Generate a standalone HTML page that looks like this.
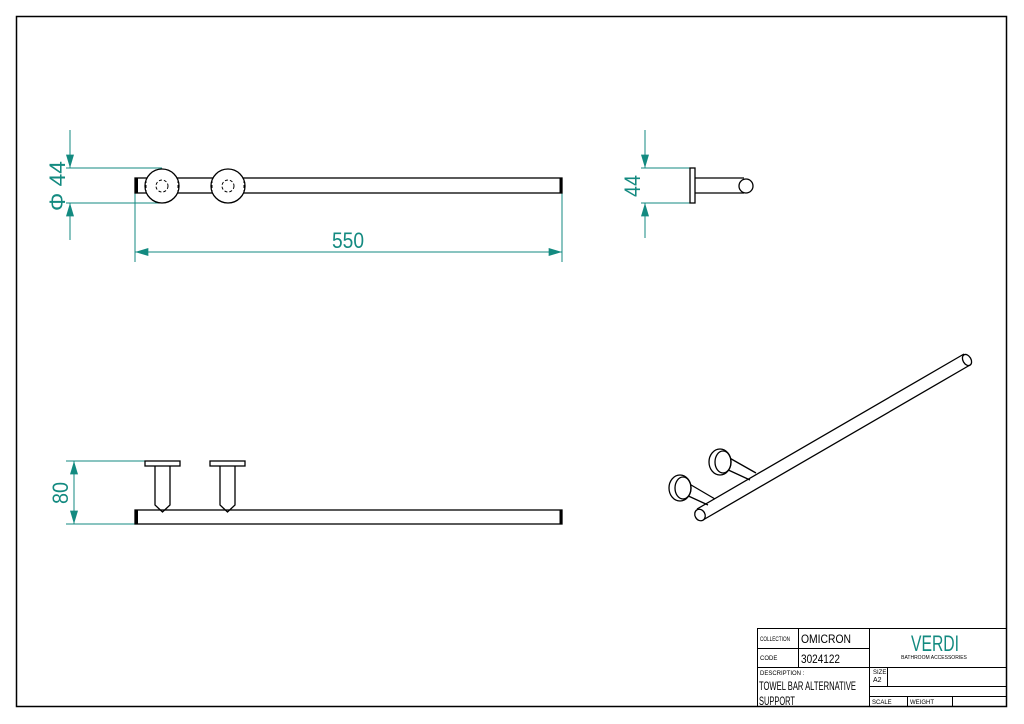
<!DOCTYPE html>
<html><head><style>body{margin:0;background:#fff}svg{display:block}</style></head><body>
<svg width="1024" height="724" viewBox="0 0 1024 724" xmlns="http://www.w3.org/2000/svg" font-family="Liberation Sans, sans-serif">
<defs>
<marker id="a" viewBox="0 0 10 6" refX="10" refY="3" markerWidth="16" markerHeight="8" markerUnits="userSpaceOnUse" orient="auto"><path d="M0,0L10,3L0,6z" fill="#138a80"/></marker>
</defs>
<rect x="16.5" y="16.5" width="990" height="690" fill="none" stroke="#000" stroke-width="1.5"/>
<g stroke="#138a80" stroke-width="1" fill="none">
<line x1="70" y1="130" x2="70" y2="168" marker-end="url(#a)"/>
<line x1="70" y1="240" x2="70" y2="203" marker-end="url(#a)"/>
<line x1="66" y1="168" x2="162" y2="168"/><line x1="66" y1="203" x2="162" y2="203"/>
<line x1="135" y1="193" x2="135" y2="262"/><line x1="562" y1="193" x2="562" y2="262"/>
<line x1="348" y1="252" x2="135" y2="252" marker-end="url(#a)"/>
<line x1="348" y1="252" x2="562" y2="252" marker-end="url(#a)"/>
<line x1="645" y1="130" x2="645" y2="168" marker-end="url(#a)"/>
<line x1="645" y1="238" x2="645" y2="203" marker-end="url(#a)"/>
<line x1="641" y1="168" x2="690" y2="168"/><line x1="641" y1="203" x2="690" y2="203"/>
<line x1="66" y1="461" x2="145" y2="461"/><line x1="66" y1="524" x2="135" y2="524"/>
<line x1="74" y1="492" x2="74" y2="461" marker-end="url(#a)"/>
<line x1="74" y1="492" x2="74" y2="524" marker-end="url(#a)"/>
</g>
<g fill="#138a80" font-size="22">
<text transform="translate(65,186) rotate(-90)" text-anchor="middle" textLength="50" lengthAdjust="spacingAndGlyphs">Φ 44</text>
<text x="348" y="248" text-anchor="middle" textLength="32" lengthAdjust="spacingAndGlyphs">550</text>
<text transform="translate(640,186) rotate(-90)" text-anchor="middle" textLength="22" lengthAdjust="spacingAndGlyphs">44</text>
<text transform="translate(68,493) rotate(-90)" text-anchor="middle" textLength="22" lengthAdjust="spacingAndGlyphs">80</text>
</g>
<g stroke="#000" stroke-width="1.3" fill="none">
<rect x="135" y="178" width="427" height="15"/>
<line x1="136.5" y1="178" x2="136.5" y2="193" stroke-width="3"/><line x1="560.5" y1="178" x2="560.5" y2="193" stroke-width="2"/>
<circle cx="162" cy="186" r="17" fill="#fff"/><circle cx="228" cy="186" r="17" fill="#fff"/>
<circle cx="162" cy="186" r="6" stroke-dasharray="3,2" stroke-width="1"/>
<circle cx="228" cy="186" r="6" stroke-dasharray="3,2" stroke-width="1"/>
<line x1="146" y1="180" x2="146" y2="192" stroke-dasharray="3,2" stroke-width="1"/>
<line x1="178" y1="180" x2="178" y2="192" stroke-dasharray="3,2" stroke-width="1"/>
<line x1="212" y1="180" x2="212" y2="192" stroke-dasharray="3,2" stroke-width="1"/>
<line x1="244" y1="180" x2="244" y2="192" stroke-dasharray="3,2" stroke-width="1"/>
<rect x="690" y="168" width="5" height="35"/>
<path d="M695,178H744M695,193H744"/>
<circle cx="746" cy="186" r="7" fill="#fff"/>
<rect x="135" y="510" width="427" height="14"/>
<line x1="136.5" y1="510" x2="136.5" y2="524" stroke-width="3"/><line x1="560.5" y1="510" x2="560.5" y2="524" stroke-width="2"/>
<rect x="145" y="461" width="35" height="5"/><rect x="210" y="461" width="35" height="5"/>
<path d="M155,466V505L162.5,512L170,505V466"/>
<path d="M220,466V505L227.5,512L235,505V466"/>
<path d="M697,509L964,354M703,520L970,365" />
<ellipse cx="700" cy="515" rx="5" ry="6" transform="rotate(-30 700 515)" fill="#fff"/>
<ellipse cx="967" cy="360" rx="4" ry="6" transform="rotate(-30 967 360)"/>
<path d="M686,482L715,499M684,494L708,505"/>
<path d="M726,456L756,473M724,468L750,480"/>
<ellipse cx="680" cy="488" rx="11" ry="13" fill="#fff"/><ellipse cx="683" cy="488" rx="8" ry="11"/>
<ellipse cx="720" cy="462" rx="11" ry="13" fill="#fff"/><ellipse cx="723" cy="462" rx="8" ry="11"/>
</g>
<g stroke="#000" stroke-width="1" fill="none">
<rect x="757.5" y="628.5" width="249" height="78"/>
<path d="M757,648.5H869M757,667.5H1006M869,686.5H1006M869,696.5H1006"/>
<path d="M798.5,628V667M869.5,628V707M887.5,667V686M907.5,696V707M952.5,696V707"/>
</g>
<g font-size="6" fill="#000">
<text x="760" y="641" textLength="30" lengthAdjust="spacingAndGlyphs">COLLECTION</text>
<text x="760" y="660">CODE</text>
<text x="760" y="675">DESCRIPTION :</text>
<text x="873" y="674">SIZE</text>
<text x="872" y="704">SCALE</text>
<text x="910" y="704">WEIGHT</text>
</g>
<g font-size="12" fill="#000">
<text x="801" y="643" textLength="50" lengthAdjust="spacingAndGlyphs">OMICRON</text>
<text x="801" y="663" textLength="39" lengthAdjust="spacingAndGlyphs">3024122</text>
<text x="759" y="690" textLength="97" lengthAdjust="spacingAndGlyphs">TOWEL BAR ALTERNATIVE</text>
<text x="759" y="705" textLength="36" lengthAdjust="spacingAndGlyphs">SUPPORT</text>
<text x="873" y="682" font-size="7">A2</text>
</g>
<text x="935" y="651" text-anchor="middle" font-size="22" fill="#138a80" textLength="48" lengthAdjust="spacingAndGlyphs">VERDI</text>
<text x="934" y="659" text-anchor="middle" font-size="5" fill="#000">BATHROOM ACCESSORIES</text>
</svg>
</body></html>
